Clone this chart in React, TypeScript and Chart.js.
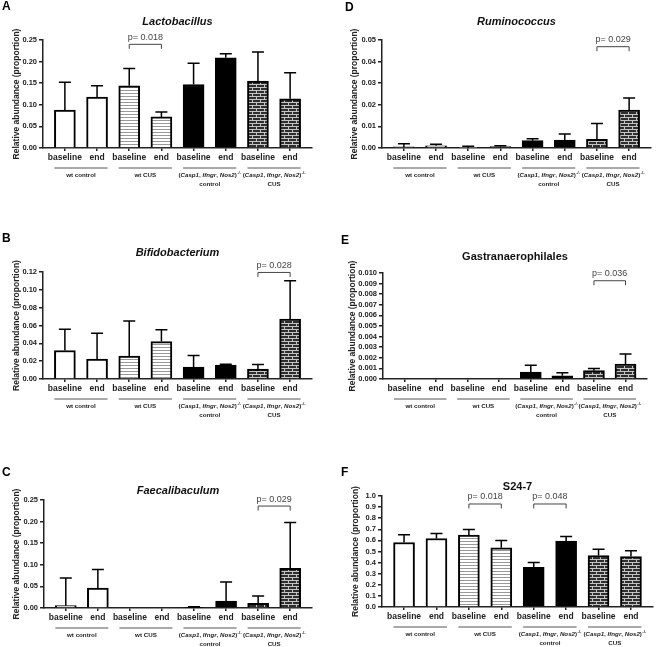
import React, { useEffect, useRef } from 'react';
import { Chart, registerables } from 'chart.js';
Chart.register(...registerables);

const FONT = "'Liberation Sans', Arial, Helvetica, sans-serif";

// ---------- data ----------
const barLabels = ['baseline', 'end', 'baseline', 'end', 'baseline', 'end', 'baseline', 'end'];
const groupLine1 = ['wt control', 'wt CUS', '(Casp1, Ifngr, Nos2)-/-', '(Casp1, Ifngr, Nos2)-/-'];
const groupLine2 = ['', '', 'control', 'CUS'];
const italicWords = ['Casp1', 'Ifngr', 'Nos2'];
const yAxisTitle = 'Relative abundance (proportion)';

const lactobacillusMean = [0.0875, 0.118, 0.144, 0.072, 0.147, 0.209, 0.155, 0.114];
const lactobacillusErr = [0.152, 0.144, 0.184, 0.0836, 0.196, 0.218, 0.222, 0.174];
const lactobacillusTicks = ['0.00', '0.05', '0.10', '0.15', '0.20', '0.25'];
const lactobacillusP = [{ from: 2, to: 3, level: 0.240, text: 'p= 0.018' }];

const bifidobacteriumMean = [0.032, 0.0223, 0.0256, 0.042, 0.0134, 0.0156, 0.011, 0.0672];
const bifidobacteriumErr = [0.0557, 0.0513, 0.065, 0.0553, 0.0264, 0.0166, 0.0163, 0.1103];
const bifidobacteriumTicks = ['0.00', '0.02', '0.04', '0.06', '0.08', '0.10', '0.12'];
const bifidobacteriumP = [{ from: 6, to: 7, level: 0.1195, text: 'p= 0.028' }];

const faecalibaculumMean = [0.0054, 0.0464, 0, 0, 0.0012, 0.016, 0.011, 0.092];
const faecalibaculumErr = [0.0697, 0.089, 0, 0, 0.003, 0.060, 0.028, 0.198];
const faecalibaculumTicks = ['0.00', '0.05', '0.10', '0.15', '0.20', '0.25'];
const faecalibaculumP = [{ from: 6, to: 7, level: 0.236, text: 'p= 0.029' }];

const ruminococcusMean = [0.0005, 0.001, 0.0001, 0.0006, 0.0034, 0.0037, 0.004, 0.0175];
const ruminococcusErr = [0.002, 0.0017, 0.0008, 0.001, 0.0043, 0.0065, 0.0113, 0.0232];
const ruminococcusTicks = ['0.00', '0.01', '0.02', '0.03', '0.04', '0.05'];
const ruminococcusP = [{ from: 6, to: 7, level: 0.0469, text: 'p= 0.029' }];

const gastranaerophilalesMean = [0, 0, 0, 0, 0.00066, 0.0003, 0.00079, 0.0014];
const gastranaerophilalesErr = [0, 0, 0, 0, 0.0013, 0.0006, 0.001, 0.00236];
const gastranaerophilalesTicks = ['0.000', '0.001', '0.002', '0.003', '0.004', '0.005', '0.006', '0.007', '0.008', '0.009', '0.010'];
const gastranaerophilalesP = [{ from: 6, to: 7, level: 0.00927, text: 'p= 0.036' }];

const s247Mean = [0.581, 0.617, 0.648, 0.533, 0.358, 0.593, 0.464, 0.455];
const s247Err = [0.651, 0.663, 0.699, 0.599, 0.40, 0.635, 0.521, 0.506];
const s247Ticks = ['0.0', '0.1', '0.2', '0.3', '0.4', '0.5', '0.6', '0.7', '0.8', '0.9', '1.0'];
const s247P = [
  { from: 2, to: 3, level: 0.928, text: 'p= 0.018' },
  { from: 4, to: 5, level: 0.928, text: 'p= 0.048' },
];

// ---------- style / layout ----------
const fills = ['white', 'white', 'stripe', 'stripe', 'black', 'black', 'brick', 'brick'];

type PanelCfg = {
  letter: string; title: string; italic: boolean;
  mean: number[]; err: number[]; ticks: string[]; pvals: { from: number; to: number; level: number; text: string }[];
  cell: { x: number; y: number; w: number; h: number };
  area: { l: number; r: number; t: number; b: number };
  titleY: number; letterPos: { x: number; y: number }; yTitleX: number;
};

const panels: PanelCfg[] = [
  { letter: 'A', title: 'Lactobacillus', italic: true, mean: lactobacillusMean, err: lactobacillusErr, ticks: lactobacillusTicks, pvals: lactobacillusP,
    cell: { x: 0, y: 0, w: 328, h: 215 }, area: { l: 43, r: 312, t: 40, b: 148 }, titleY: 22, letterPos: { x: 2, y: 7 }, yTitleX: 17 },
  { letter: 'B', title: 'Bifidobacterium', italic: true, mean: bifidobacteriumMean, err: bifidobacteriumErr, ticks: bifidobacteriumTicks, pvals: bifidobacteriumP,
    cell: { x: 0, y: 215, w: 328, h: 215 }, area: { l: 43, r: 312, t: 57, b: 164 }, titleY: 38, letterPos: { x: 2, y: 24 }, yTitleX: 17 },
  { letter: 'C', title: 'Faecalibaculum', italic: true, mean: faecalibaculumMean, err: faecalibaculumErr, ticks: faecalibaculumTicks, pvals: faecalibaculumP,
    cell: { x: 0, y: 430, w: 328, h: 217 }, area: { l: 44, r: 312, t: 70, b: 178 }, titleY: 61, letterPos: { x: 2, y: 43 }, yTitleX: 17 },
  { letter: 'D', title: 'Ruminococcus', italic: true, mean: ruminococcusMean, err: ruminococcusErr, ticks: ruminococcusTicks, pvals: ruminococcusP,
    cell: { x: 328, y: 0, w: 328, h: 215 }, area: { l: 54, r: 323, t: 40, b: 148 }, titleY: 22, letterPos: { x: 17, y: 8 }, yTitleX: 27 },
  { letter: 'E', title: 'Gastranaerophilales', italic: false, mean: gastranaerophilalesMean, err: gastranaerophilalesErr, ticks: gastranaerophilalesTicks, pvals: gastranaerophilalesP,
    cell: { x: 328, y: 215, w: 328, h: 215 }, area: { l: 55, r: 319, t: 58, b: 164 }, titleY: 42, letterPos: { x: 13, y: 26 }, yTitleX: 25 },
  { letter: 'F', title: 'S24-7', italic: false, mean: s247Mean, err: s247Err, ticks: s247Ticks, pvals: s247P,
    cell: { x: 328, y: 430, w: 328, h: 217 }, area: { l: 54, r: 325, t: 66, b: 177 }, titleY: 57, letterPos: { x: 13, y: 43 }, yTitleX: 28 },
];

function makePatterns(ctx: CanvasRenderingContext2D) {
  const stripe = document.createElement('canvas');
  stripe.width = 4; stripe.height = 3;
  const s = stripe.getContext('2d')!;
  s.fillStyle = '#ffffff'; s.fillRect(0, 0, 4, 3);
  s.fillStyle = '#999999'; s.fillRect(0, 0, 4, 1);
  const brick = document.createElement('canvas');
  brick.width = 8; brick.height = 6;
  const b = brick.getContext('2d')!;
  b.fillStyle = '#2e2e2e'; b.fillRect(0, 0, 8, 6);
  b.fillStyle = '#c4c4c4';
  b.fillRect(0, 0, 8, 1); b.fillRect(0, 3, 8, 1);
  b.fillRect(0, 1, 1, 2); b.fillRect(4, 4, 1, 2);
  return {
    white: '#ffffff',
    black: '#000000',
    stripe: ctx.createPattern(stripe, 'repeat'),
    brick: ctx.createPattern(brick, 'repeat'),
  } as Record<string, any>;
}

function drawRich(ctx: CanvasRenderingContext2D, text: string, cx: number, cy: number, size: number, color: string) {
  let rest = text;
  let sup = '';
  if (rest.endsWith('-/-')) { sup = '-/-'; rest = rest.slice(0, -3); }
  const re = new RegExp('(' + italicWords.join('|') + ')');
  const segs: { t: string; it: boolean; w: number }[] = [];
  rest.split(re).forEach((t) => { if (t) segs.push({ t, it: italicWords.includes(t), w: 0 }); });
  const f = (it: boolean, s: number) => `${it ? 'italic ' : ''}bold ${s}px ${FONT}`;
  let w = 0;
  segs.forEach((s) => { ctx.font = f(s.it, size); s.w = ctx.measureText(s.t).width; w += s.w; });
  let sw = 0;
  if (sup) { ctx.font = f(false, size * 0.7); sw = ctx.measureText(sup).width; }
  let x = cx - (w + sw) / 2;
  ctx.textBaseline = 'middle'; ctx.textAlign = 'left'; ctx.fillStyle = color;
  segs.forEach((s) => { ctx.font = f(s.it, size); ctx.fillText(s.t, x, cy); x += s.w; });
  if (sup) { ctx.font = f(false, size * 0.7); ctx.fillText(sup, x + 0.3, cy - size * 0.4); }
}

function annotPlugin(cfg: PanelCfg) {
  return {
    id: 'annot' + cfg.letter,
    afterDatasetsDraw(chart: any) {
      const ctx: CanvasRenderingContext2D = chart.ctx;
      const y = chart.scales.y;
      const meta = chart.getDatasetMeta(0);
      ctx.save();
      ctx.strokeStyle = '#000';
      ctx.lineWidth = 1.5;
      meta.data.forEach((el: any, i: number) => {
        const e = cfg.err[i];
        if (!(e > cfg.mean[i])) return;
        const yt = y.getPixelForValue(e);
        ctx.beginPath();
        ctx.moveTo(el.x, el.y);
        ctx.lineTo(el.x, yt);
        ctx.moveTo(el.x - 6, yt);
        ctx.lineTo(el.x + 6, yt);
        ctx.stroke();
      });
      ctx.restore();
    },
    afterDraw(chart: any) {
      const ctx: CanvasRenderingContext2D = chart.ctx;
      const x = chart.scales.x;
      const y = chart.scales.y;
      const ca = chart.chartArea;
      ctx.save();
      ctx.fillStyle = '#000';
      ctx.font = `bold 12px ${FONT}`;
      ctx.textAlign = 'left'; ctx.textBaseline = 'middle';
      ctx.fillText(cfg.letter, cfg.letterPos.x, cfg.letterPos.y);
      ctx.font = `${cfg.italic ? 'italic ' : ''}bold 11px ${FONT}`;
      ctx.textAlign = 'center';
      ctx.fillStyle = '#111';
      ctx.fillText(cfg.title, (ca.left + ca.right) / 2, cfg.titleY);
      cfg.pvals.forEach((p) => {
        const x0 = x.getPixelForValue(p.from);
        const x1 = x.getPixelForValue(p.to);
        const yb = y.getPixelForValue(p.level);
        ctx.strokeStyle = '#444'; ctx.lineWidth = 1;
        ctx.beginPath();
        ctx.moveTo(x0, yb + 4.5); ctx.lineTo(x0, yb); ctx.lineTo(x1, yb); ctx.lineTo(x1, yb + 4.5);
        ctx.stroke();
        ctx.fillStyle = '#444';
        ctx.font = `9px ${FONT}`;
        ctx.textAlign = 'center'; ctx.textBaseline = 'middle';
        ctx.fillText(p.text, (x0 + x1) / 2, yb - 7);
      });
      for (let g = 0; g < 4; g++) {
        const xa = x.getPixelForValue(2 * g);
        const xb = x.getPixelForValue(2 * g + 1);
        const yl = ca.bottom + 20;
        ctx.strokeStyle = '#555'; ctx.lineWidth = 1;
        ctx.beginPath(); ctx.moveTo(xa - 10.5, yl); ctx.lineTo(xb + 10.5, yl); ctx.stroke();
        const cx = (xa + xb) / 2;
        drawRich(ctx, groupLine1[g], cx, ca.bottom + 27, 6.2, '#222');
        if (groupLine2[g]) drawRich(ctx, groupLine2[g], cx, ca.bottom + 36, 6.2, '#222');
      }
      ctx.restore();
    },
  };
}

function Panel({ cfg }: { cfg: PanelCfg }) {
  const ref = useRef<HTMLCanvasElement>(null);
  useEffect(() => {
    const canvas = ref.current!;
    const ctx = canvas.getContext('2d')!;
    const pats = makePatterns(ctx);
    const { area, cell } = cfg;
    const padL = cfg.yTitleX - 5.1;
    const xH = 16;
    const tickVals = cfg.ticks.map(Number);
    const chart = new Chart(ctx, {
      type: 'bar',
      data: {
        datasets: [{
          data: cfg.mean.map((v, i) => ({ x: i, y: v })),
          backgroundColor: fills.map((f) => pats[f]),
          borderColor: '#000',
          borderWidth: 2,
          barThickness: 21,
          borderSkipped: 'start',
        }],
      },
      options: {
        responsive: false,
        animation: false,
        devicePixelRatio: 1,
        layout: { padding: { left: padL, right: cell.w - area.r, top: area.t, bottom: cell.h - area.b - xH } },
        plugins: { legend: { display: false }, tooltip: { enabled: false }, title: { display: false } },
        scales: {
          x: {
            type: 'linear', min: -0.68, max: 7.68, offset: false, grace: 0,
            afterBuildTicks: (s: any) => { s.ticks = barLabels.map((_, i) => ({ value: i })); },
            afterFit: (s: any) => { s.height = xH; },
            ticks: {
              autoSkip: false, maxRotation: 0, minRotation: 0, padding: 1.5, color: '#222',
              font: { family: FONT, size: 8.5, weight: 'bold' },
              callback: (_v: any, i: number) => barLabels[i],
            },
            grid: { display: true, offset: false, drawOnChartArea: false, drawTicks: true, tickLength: 3, color: '#222', lineWidth: 1.5 },
            border: { display: true, color: '#222', width: 1.5 },
          },
          y: {
            min: 0, max: tickVals[tickVals.length - 1],
            afterBuildTicks: (s: any) => { s.ticks = tickVals.map((v) => ({ value: v })); },
            afterFit: (s: any) => { s.width = area.l - padL; },
            ticks: {
              autoSkip: false, padding: 2, color: '#222',
              font: { family: FONT, size: 7.5, weight: 'bold' },
              callback: (_v: any, i: number) => cfg.ticks[i],
            },
            grid: { display: true, drawOnChartArea: false, drawTicks: true, tickLength: 4, color: '#222', lineWidth: 1.5 },
            border: { display: true, color: '#222', width: 1.5 },
            title: { display: true, text: yAxisTitle, color: '#222', padding: 0, font: { family: FONT, size: 8.5, weight: 'bold' } },
          },
        },
      } as any,
      plugins: [annotPlugin(cfg)],
    });
    return () => chart.destroy();
  }, []);
  return (
    <canvas
      ref={ref}
      width={cfg.cell.w}
      height={cfg.cell.h}
      style={{ position: 'absolute', left: cfg.cell.x, top: cfg.cell.y, width: cfg.cell.w, height: cfg.cell.h }}
    />
  );
}

export default function App() {
  return (
    <div style={{ position: 'absolute', left: 0, top: 0, width: 656, height: 647, background: '#fff', overflow: 'hidden' }}>
      {panels.map((p) => <Panel key={p.letter} cfg={p} />)}
    </div>
  );
}
